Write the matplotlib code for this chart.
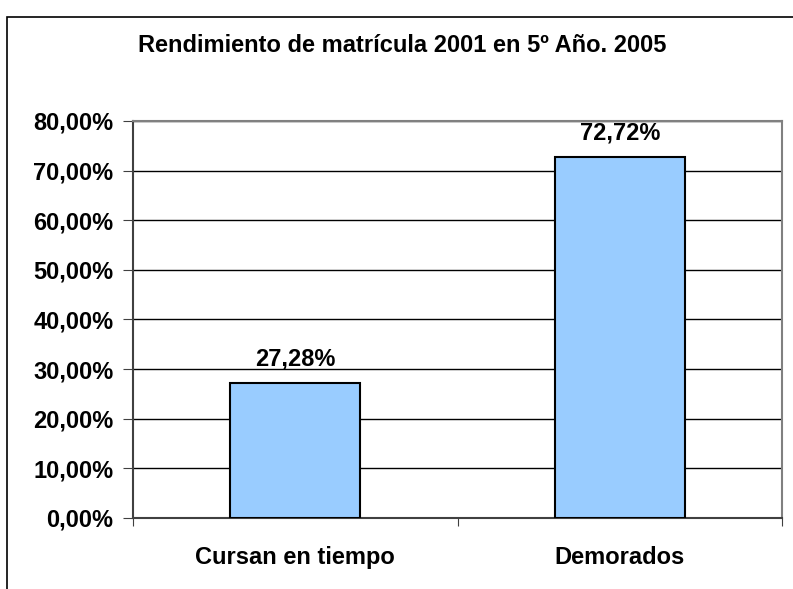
import matplotlib
matplotlib.use("Agg")
import matplotlib.pyplot as plt
from matplotlib.patches import Rectangle

categories = ["Cursan en tiempo", "Demorados"]
values = [27.28, 72.72]
yticks = [0, 10, 20, 30, 40, 50, 60, 70, 80]

plt.rcParams['font.family'] = ['Liberation Sans', 'DejaVu Sans']
FS = 17

fig = plt.figure(figsize=(7.93, 5.89), dpi=100)
W, H = 793, 589
ax = fig.add_axes([133 / W, 1 - 518 / H, (782 - 133) / W, (518 - 121) / H])

# outer chart border (runs off the right/bottom edge)
fig.add_artist(Rectangle((7 / W, -0.1), 1.2, 1 - 17 / H + 0.1, transform=fig.transFigure,
                         fill=False, edgecolor='black', linewidth=1.2))

x = range(len(categories))
ax.bar(x, values, width=0.4, color='#99ccff', edgecolor='black', linewidth=1.5, zorder=3)
for xi, v in zip(x, values):
    ax.text(xi, v + 4.8, f"{v:.2f}%".replace('.', ','), ha='center', va='center',
            fontsize=FS, fontweight='bold')

ax.set_xlim(-0.5, 1.5)
ax.set_ylim(0, 80)
ax.set_yticks(yticks)
ax.set_yticklabels([f"{t:.2f}%".replace('.', ',') for t in yticks], fontsize=FS, fontweight='bold')
ax.yaxis.grid(True, color='black', linewidth=1)
ax.set_axisbelow(True)

ax.set_xticks([-0.5, 0.5, 1.5])
ax.set_xticklabels([])
ax.set_xticks([0, 1], minor=True)
ax.set_xticklabels(categories, minor=True, fontsize=FS, fontweight='bold')
ax.tick_params(axis='x', which='minor', length=0, pad=20)
ax.tick_params(axis='x', which='major', length=6, direction='out', color='#404040')
ax.tick_params(axis='y', length=7, direction='out', color='#404040', pad=7)

for s in ['top', 'right']:
    ax.spines[s].set_color('#808080')
    ax.spines[s].set_linewidth(1.5)
for s in ['left', 'bottom']:
    ax.spines[s].set_color('#404040')
    ax.spines[s].set_linewidth(1.5)

fig.text(402 / W, 1 - 46 / H, "Rendimiento de matrícula 2001 en 5º Año. 2005",
         ha='center', va='center', fontsize=FS, fontweight='bold')

fig.savefig("out.png", dpi=100)
